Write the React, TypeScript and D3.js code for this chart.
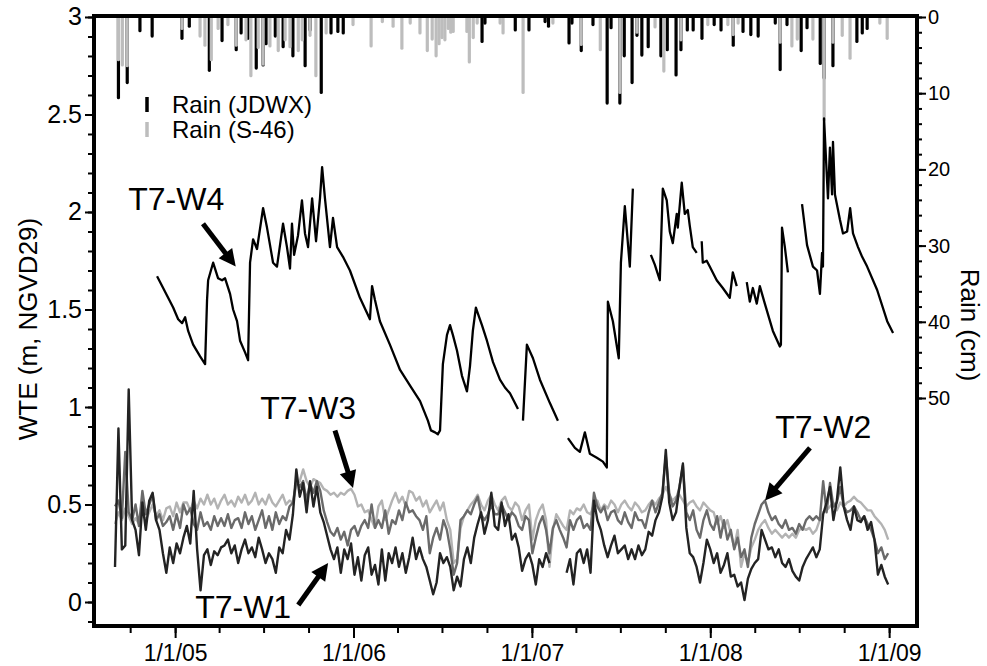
import React, { useEffect, useRef } from 'react';
import * as d3 from 'd3';

// weekly water-table elevations (m, NGVD29), first reading 2004-08-31
const wellStart = '2004-08-31';
const wellStepDays = 7;

const wellW1: (number | null)[] = [
  0.18, 0.89, 0.27, 0.29, 1.09, 0.42, 0.37, 0.24, 0.51, 0.37,
  0.52, 0.56, 0.42, 0.37, 0.25, 0.15, 0.28, 0.20, 0.30, 0.25,
  0.33, 0.39, 0.30, 0.57, 0.27, 0.06, 0.24, 0.27, 0.19, 0.26,
  0.24, 0.28, 0.29, 0.32, 0.25, 0.29, 0.20, 0.27, 0.32, 0.25,
  0.28, 0.23, 0.33, 0.27, 0.20, 0.25, 0.22, 0.15, 0.28, 0.25,
  0.37, 0.32, 0.45, 0.68, 0.54, 0.61, 0.46, 0.62, 0.49, 0.59,
  0.46, 0.41, 0.34, 0.27, 0.22, 0.28, 0.15, 0.27, 0.22, 0.30,
  0.14, 0.23, 0.11, 0.24, 0.28, 0.14, 0.19, 0.09, 0.27, 0.11,
  0.25, 0.20, 0.28, 0.18, 0.25, 0.15, 0.23, 0.33, 0.22, 0.28,
  0.22, 0.18, 0.11, 0.04, 0.10, 0.25, 0.20, 0.23, 0.18, 0.06,
  0.13, 0.08, 0.22, 0.28, 0.20, 0.33, 0.40, 0.46, 0.35, 0.42,
  0.56, 0.39, 0.37, 0.51, 0.39, 0.45, 0.32, 0.35, 0.28, 0.16,
  0.22, 0.25, 0.19, 0.09, 0.22, 0.18, 0.25, 0.20, null, null,
  null, null, 0.15, 0.22, 0.09, 0.25, 0.27, 0.20, 0.27, 0.15,
  0.52, 0.42, 0.37, 0.29, 0.23, 0.29, 0.34, 0.25, 0.27, 0.29,
  0.22, 0.27, 0.22, 0.29, 0.24, 0.27, 0.36, 0.34, 0.42, 0.46,
  0.54, 0.78, 0.51, 0.42, 0.46, 0.59, 0.71, 0.38, 0.25, 0.23,
  0.18, 0.10, 0.20, 0.32, 0.27, 0.20, 0.25, 0.15, 0.19, 0.25,
  0.13, 0.14, 0.08, 0.10, 0.01, 0.12, 0.17, 0.20, 0.22, 0.37,
  0.32, 0.27, 0.28, 0.23, 0.27, 0.20, 0.18, 0.22, 0.16, 0.13,
  0.11, 0.18, 0.22, 0.25, 0.28, 0.23, 0.27, 0.45, 0.51, 0.59,
  0.42, 0.52, 0.69, 0.49, 0.42, 0.37, 0.49, 0.42, 0.41, 0.44,
  0.37, 0.41, 0.32, 0.14, 0.19, 0.13, 0.09,
];

const wellW2: (number | null)[] = [
  0.49, 0.52, 0.43, 0.77, 0.46, 0.42, 0.50, 0.39, 0.57, 0.45,
  0.50, 0.55, 0.42, 0.45, 0.39, 0.41, 0.44, 0.37, 0.45, 0.38,
  0.50, 0.45, 0.48, 0.40, 0.37, 0.46, 0.39, 0.41, 0.37, 0.44,
  0.39, 0.43, 0.39, 0.45, 0.38, 0.42, 0.43, 0.38, 0.46, 0.40,
  0.44, 0.37, 0.42, 0.47, 0.38, 0.44, 0.37, 0.46, 0.40, 0.44,
  0.42, 0.49, 0.51, 0.62, 0.59, 0.62, 0.52, 0.61, 0.56, 0.62,
  0.57, 0.47, 0.41, 0.36, 0.34, 0.38, 0.32, 0.36, 0.29, 0.37,
  0.39, 0.34, 0.39, 0.42, 0.38, 0.50, 0.38, 0.42, 0.38, 0.47,
  0.35, 0.42, 0.40, 0.47, 0.42, 0.51, 0.46, 0.47, 0.44, 0.42,
  0.37, 0.44, 0.25, 0.33, 0.38, 0.32, 0.42, 0.37, 0.27, 0.14,
  0.20, 0.42, 0.44, 0.47, 0.45, 0.50, 0.54, 0.45, 0.42, 0.45,
  0.50, 0.45, 0.45, 0.50, 0.46, 0.42, 0.46, 0.44, 0.39, 0.37,
  0.44, 0.42, 0.25, 0.33, 0.40, 0.44, 0.37, 0.25, 0.38, 0.42,
  0.37, 0.33, 0.28, 0.42, 0.37, 0.42, 0.44, 0.38, 0.40, 0.37,
  0.56, 0.49, 0.46, 0.49, 0.42, 0.46, 0.47, 0.42, 0.40, 0.46,
  0.41, 0.38, 0.46, 0.42, 0.42, 0.38, 0.46, 0.52, 0.46, 0.51,
  0.56, 0.75, 0.56, 0.49, 0.52, 0.59, 0.70, 0.46, 0.42, 0.47,
  0.37, 0.33, 0.42, 0.47, 0.40, 0.37, 0.44, 0.33, 0.42, 0.32,
  0.37, 0.27, 0.33, 0.23, 0.27, 0.18, 0.33, 0.40, 0.45, 0.50,
  0.52, 0.46, 0.42, 0.44, 0.40, 0.38, 0.42, 0.37, 0.38, 0.35,
  0.40, 0.37, 0.42, 0.44, 0.42, 0.44, 0.42, 0.62, 0.46, 0.61,
  0.49, 0.51, 0.59, 0.49, 0.46, 0.47, 0.49, 0.46, 0.42, 0.44,
  0.40, 0.37, 0.32, 0.25, 0.28, 0.22, 0.25,
];

const wellW3: (number | null)[] = [
  0.40, 0.46, 0.42, 0.48, 0.44, 0.40, 0.43, 0.40, 0.45, 0.42,
  0.46, 0.50, 0.44, 0.47, 0.42, 0.48, 0.49, 0.44, 0.51, 0.46,
  0.51, 0.51, 0.47, 0.52, 0.48, 0.53, 0.50, 0.55, 0.50, 0.53,
  0.48, 0.52, 0.55, 0.50, 0.52, 0.49, 0.54, 0.51, 0.55, 0.50,
  0.52, 0.56, 0.50, 0.53, 0.50, 0.55, 0.51, 0.49, 0.52, 0.55,
  0.50, 0.52, 0.51, 0.60, 0.62, 0.68, 0.62, 0.59, 0.63, 0.62,
  0.61, 0.58, 0.57, 0.55, 0.56, 0.54, 0.56, 0.55, 0.57, 0.58,
  0.55, 0.49, 0.50, 0.46, 0.47, 0.42, 0.38, 0.49, 0.52, 0.42,
  0.47, 0.52, 0.56, 0.51, 0.54, 0.49, 0.57, 0.56, 0.52, 0.54,
  0.49, 0.52, 0.46, 0.49, 0.52, 0.47, 0.51, 0.42, 0.37, 0.20,
  0.22, 0.38, 0.44, 0.47, 0.50, 0.52, 0.55, 0.50, 0.47, 0.52,
  0.55, 0.50, 0.47, 0.52, 0.54, 0.49, 0.47, 0.51, 0.49, 0.42,
  0.47, 0.50, 0.32, 0.42, 0.47, 0.50, 0.42, 0.18, 0.37, 0.45,
  0.42, 0.39, 0.37, 0.47, 0.45, 0.48, 0.47, 0.50, 0.46, 0.45,
  0.50, 0.52, 0.47, 0.50, 0.48, 0.52, 0.50, 0.46, 0.50, 0.52,
  0.49, 0.47, 0.51, 0.49, 0.46, 0.47, 0.50, 0.52, 0.50, 0.53,
  0.55, 0.59, 0.55, 0.52, 0.54, 0.55, 0.52, 0.49, 0.51, 0.52,
  0.49, 0.47, 0.51, 0.49, 0.47, 0.46, 0.40, 0.44, 0.38, 0.42,
  0.35, 0.28, 0.37, 0.18, 0.25, 0.20, 0.28, 0.32, 0.37, 0.40,
  0.42, 0.38, 0.35, 0.37, 0.35, 0.33, 0.35, 0.33, 0.35, 0.33,
  0.37, 0.38, 0.37, 0.38, 0.35, 0.37, 0.42, 0.46, 0.47, 0.49,
  0.51, 0.47, 0.51, 0.49, 0.51, 0.52, 0.54, 0.52, 0.51, 0.49,
  0.47, 0.47, 0.44, 0.42, 0.40, 0.37, 0.32,
];

// T7-W4 [decimal year, m]; the record has gaps so each run is its own list
const wellW4Runs: [number, number][][] = [
  [
    [2004.899, 1.67], [2004.933, 1.61], [2004.961, 1.56], [2004.989, 1.51], [2005.017, 1.45],
    [2005.039, 1.43], [2005.056, 1.46], [2005.073, 1.39], [2005.101, 1.32], [2005.140, 1.26],
    [2005.168, 1.22], [2005.179, 1.55], [2005.185, 1.65], [2005.213, 1.74], [2005.241, 1.66],
    [2005.263, 1.65], [2005.280, 1.66], [2005.308, 1.58], [2005.325, 1.50], [2005.347, 1.44],
    [2005.364, 1.34], [2005.392, 1.28], [2005.409, 1.24], [2005.420, 1.74], [2005.437, 1.86],
    [2005.459, 1.81], [2005.493, 2.02], [2005.515, 1.92], [2005.549, 1.74], [2005.571, 1.72],
    [2005.605, 1.94], [2005.627, 1.82], [2005.644, 1.71], [2005.655, 1.94], [2005.667, 1.78],
    [2005.689, 1.88], [2005.711, 2.06], [2005.728, 1.89], [2005.745, 1.82], [2005.768, 2.07],
    [2005.790, 1.85], [2005.812, 2.07], [2005.824, 2.23], [2005.840, 2.07], [2005.868, 1.82],
    [2005.885, 1.97], [2005.908, 1.82], [2005.941, 1.77], [2005.980, 1.70], [2006.036, 1.56],
    [2006.092, 1.45], [2006.104, 1.62], [2006.120, 1.55], [2006.148, 1.44], [2006.204, 1.32],
    [2006.261, 1.19], [2006.317, 1.11], [2006.373, 1.03], [2006.417, 0.93], [2006.434, 0.88],
    [2006.457, 0.87], [2006.473, 0.86], [2006.485, 0.88], [2006.501, 1.22], [2006.524, 1.37],
    [2006.541, 1.42], [2006.557, 1.37], [2006.580, 1.29], [2006.608, 1.16], [2006.636, 1.08],
    [2006.653, 1.21], [2006.669, 1.39], [2006.686, 1.51], [2006.697, 1.48], [2006.720, 1.42],
    [2006.748, 1.34], [2006.782, 1.23], [2006.821, 1.14], [2006.849, 1.10], [2006.877, 1.07],
    [2006.905, 1.02], [2006.922, 0.99],
  ],
  [
    [2006.950, 0.93], [2006.972, 1.32], [2007.006, 1.25], [2007.045, 1.14], [2007.101, 1.02],
    [2007.146, 0.93],
  ],
  [
    [2007.202, 0.84], [2007.241, 0.79], [2007.269, 0.77], [2007.297, 0.87], [2007.325, 0.76],
    [2007.364, 0.74], [2007.398, 0.72], [2007.420, 0.69], [2007.426, 1.54], [2007.454, 1.44],
    [2007.487, 1.25], [2007.499, 1.74], [2007.521, 2.03], [2007.549, 1.72], [2007.566, 2.12],
  ],
  [
    [2007.667, 1.78], [2007.689, 1.73], [2007.717, 1.65], [2007.734, 2.12], [2007.756, 2.06],
    [2007.773, 1.90], [2007.790, 1.84], [2007.812, 1.99], [2007.818, 1.92], [2007.840, 2.15],
    [2007.857, 1.99], [2007.874, 2.01], [2007.885, 1.93], [2007.902, 1.82], [2007.924, 1.79],
  ],
  [
    [2007.952, 1.85], [2007.958, 1.74], [2007.980, 1.75], [2007.997, 1.72], [2008.036, 1.65],
    [2008.070, 1.61], [2008.109, 1.56], [2008.126, 1.69], [2008.148, 1.62],
  ],
  [
    [2008.204, 1.64], [2008.221, 1.54], [2008.238, 1.61], [2008.260, 1.53], [2008.277, 1.62],
    [2008.305, 1.53], [2008.350, 1.39], [2008.389, 1.31], [2008.395, 1.32], [2008.401, 1.92],
    [2008.417, 1.82], [2008.434, 1.69],
  ],
  [
    [2008.513, 2.04], [2008.541, 1.83], [2008.574, 1.72], [2008.597, 1.70], [2008.613, 1.58],
    [2008.625, 1.79], [2008.630, 1.72], [2008.636, 2.48], [2008.653, 2.16], [2008.658, 2.07],
    [2008.669, 2.33], [2008.681, 2.09], [2008.686, 2.36], [2008.697, 2.09], [2008.725, 1.96],
    [2008.742, 1.89], [2008.765, 1.90], [2008.782, 2.02], [2008.798, 1.89], [2008.826, 1.82],
    [2008.849, 1.77], [2008.877, 1.72], [2008.933, 1.60], [2008.989, 1.44], [2009.022, 1.38],
  ],
];

// daily rain totals (cm)
const rainJDWX: [string, number][] = [
  ['2004-09-07', 10.6], ['2004-09-25', 8.6], ['2004-10-21', 1.8], ['2004-11-15', 2.5],
  ['2005-01-15', 2.8], ['2005-01-30', 1.2], ['2005-03-12', 7.0], ['2005-04-07', 3.1],
  ['2005-05-06', 4.3], ['2005-05-16', 2.1], ['2005-05-30', 2.8], ['2005-06-16', 6.7],
  ['2005-06-30', 6.3], ['2005-07-06', 3.5], ['2005-07-25', 2.5], ['2005-08-10', 3.9],
  ['2005-08-30', 5.1], ['2005-09-24', 6.4], ['2005-10-04', 1.7], ['2005-10-27', 9.9],
  ['2005-11-16', 2.1], ['2005-11-30', 1.9], ['2005-12-11', 2.1], ['2006-09-21', 3.2],
  ['2006-09-27', 0.8], ['2006-11-28', 1.7], ['2006-12-26', 1.7], ['2007-01-28', 0.6],
  ['2007-02-04', 1.2], ['2007-03-18', 3.4], ['2007-03-24', 0.8], ['2007-04-12', 4.4],
  ['2007-05-06', 1.0], ['2007-06-04', 11.3], ['2007-06-12', 1.4], ['2007-06-30', 11.3],
  ['2007-07-09', 5.1], ['2007-07-25', 8.6], ['2007-08-04', 2.4], ['2007-08-14', 5.0],
  ['2007-08-27', 3.9], ['2007-09-22', 5.1], ['2007-10-05', 4.3], ['2007-10-23', 7.6],
  ['2007-11-02', 4.3], ['2007-11-15', 1.7], ['2007-11-27', 1.7], ['2007-12-15', 2.8],
  ['2008-01-09', 1.0], ['2008-01-23', 1.7], ['2008-02-17', 3.7], ['2008-03-08', 1.9],
  ['2008-03-24', 2.3], ['2008-04-08', 2.5], ['2008-05-13', 0.8], ['2008-05-23', 6.9],
  ['2008-06-06', 1.0], ['2008-07-05', 4.4], ['2008-07-17', 1.4], ['2008-08-13', 6.1],
  ['2008-08-21', 8.0], ['2008-09-08', 6.4], ['2008-10-27', 3.2], ['2008-11-07', 2.1],
  ['2008-11-17', 1.5],
];

const rainS46: [string, number][] = [
  ['2004-09-07', 5.6], ['2004-09-15', 6.3], ['2004-09-25', 6.4], ['2005-01-15', 1.5],
  ['2005-02-21', 2.5], ['2005-03-03', 3.7], ['2005-03-16', 5.6], ['2005-03-30', 1.5],
  ['2005-04-19', 1.0], ['2005-05-06', 3.7], ['2005-05-26', 3.0], ['2005-06-05', 7.7],
  ['2005-06-20', 4.0], ['2005-06-30', 6.2], ['2005-07-14', 3.8], ['2005-07-31', 4.4],
  ['2005-08-14', 3.0], ['2005-08-24', 3.9], ['2005-09-10', 4.4], ['2005-09-18', 3.0],
  ['2005-10-04', 2.4], ['2005-10-16', 7.7], ['2005-11-06', 2.1], ['2005-12-31', 1.0],
  ['2006-02-06', 3.8], ['2006-03-01', 0.6], ['2006-03-23', 1.2], ['2006-04-10', 4.1],
  ['2006-04-27', 0.8], ['2006-05-17', 2.1], ['2006-06-01', 4.4], ['2006-06-11', 2.9],
  ['2006-06-19', 5.1], ['2006-06-25', 3.5], ['2006-07-01', 2.7], ['2006-07-07', 3.0],
  ['2006-07-14', 1.5], ['2006-07-19', 2.0], ['2006-07-24', 1.9], ['2006-08-21', 1.9],
  ['2006-08-26', 5.9], ['2006-09-03', 2.7], ['2006-09-11', 0.8], ['2006-10-28', 0.8],
  ['2006-11-03', 2.1], ['2006-12-14', 9.9], ['2007-02-13', 0.8], ['2007-04-12', 3.6],
  ['2007-05-21', 4.3], ['2007-06-30', 9.9], ['2007-08-04', 2.0], ['2007-09-10', 1.3],
  ['2007-09-28', 7.1], ['2007-11-02', 3.0], ['2007-12-27', 1.0], ['2008-02-06', 1.0],
  ['2008-02-17', 2.3], ['2008-02-27', 0.8], ['2008-05-23', 3.3], ['2008-06-16', 3.8],
  ['2008-06-27', 2.9], ['2008-07-29', 2.9], ['2008-08-21', 13.5], ['2008-09-08', 3.3],
  ['2008-09-27', 2.4], ['2008-10-13', 5.4], ['2008-12-13', 0.8], ['2008-12-28', 2.8],
];

const wteTicks = [0, 0.5, 1, 1.5, 2, 2.5, 3];
const rainTicks = [0, 10, 20, 30, 40, 50];
const yearTicks = ['2005-01-01', '2006-01-01', '2007-01-01', '2008-01-01', '2009-01-01'];
const yearLabels = ['1/1/05', '1/1/06', '1/1/07', '1/1/08', '1/1/09'];

// well labels: text anchor, arrow tail and arrow tip in data units
const wellLabels: { label: string; text: [string, number]; tail: [string, number]; tip: [string, number] }[] = [
  { label: 'T7-W4', text: ['2004-09-27', 2.01], tail: ['2005-02-27', 1.94], tip: ['2005-05-05', 1.72] },
  { label: 'T7-W3', text: ['2005-06-24', 0.94], tail: ['2005-11-24', 0.88], tip: ['2005-12-31', 0.585] },
  { label: 'T7-W1', text: ['2005-02-11', -0.08], tail: ['2005-09-10', -0.015], tip: ['2005-11-10', 0.2] },
  { label: 'T7-W2', text: ['2008-05-13', 0.84], tail: ['2008-07-23', 0.79], tip: ['2008-04-22', 0.52] },
];

const FONT = '"Liberation Sans", Arial, Helvetica, sans-serif';
const parseDay = d3.utcParse('%Y-%m-%d');
const day = (s: string) => parseDay(s) as Date;
const fromDecimalYear = (v: number) => {
  const yr = Math.floor(v);
  const a = Date.UTC(yr, 0, 1);
  const b = Date.UTC(yr + 1, 0, 1);
  return new Date(a + (v - yr) * (b - a));
};

const App: React.FC = () => {
  const svgRef = useRef<SVGSVGElement>(null);

  useEffect(() => {
    document.body.style.margin = '0';
    if (!svgRef.current) return;
    const svg = d3.select(svgRef.current);
    svg.selectAll('*').remove();

    const box = { left: 94, right: 917, top: 16, bottom: 626 };

    const x = d3.scaleUtc().domain([day('2004-07-19'), day('2009-02-27')]).range([box.left, box.right]);
    const y = d3.scaleLinear().domain([-0.123, 3.005]).range([box.bottom, box.top]);
    const yRain = d3.scaleLinear().domain([0, 50]).range([17, 398]);

    // rain hanging from the top
    const drawRain = (data: [string, number][], color: string) => {
      svg.append('g')
        .selectAll('line')
        .data(data)
        .join('line')
        .attr('x1', d => x(day(d[0])))
        .attr('x2', d => x(day(d[0])))
        .attr('y1', yRain(0))
        .attr('y2', d => yRain(d[1]))
        .attr('stroke', color)
        .attr('stroke-width', 3.2)
        .attr('stroke-linecap', 'round');
    };
    drawRain(rainJDWX, '#000');
    drawRain(rainS46, '#bdbdbd');

    // shallow wells, weekly
    type Pt = { date: Date; v: number | null };
    const weekly = (vals: (number | null)[]): Pt[] =>
      vals.map((v, i) => ({ date: d3.utcDay.offset(day(wellStart), i * wellStepDays), v }));
    const wellLine = d3.line<Pt>()
      .defined(d => d.v !== null)
      .x(d => x(d.date))
      .y(d => y(d.v as number));

    const wells: [(number | null)[], string][] = [
      [wellW3, '#b3b3b3'],
      [wellW2, '#6a6a6a'],
      [wellW1, '#232323'],
    ];
    wells.forEach(([vals, color]) => {
      svg.append('path')
        .attr('d', wellLine(weekly(vals)))
        .attr('fill', 'none')
        .attr('stroke', color)
        .attr('stroke-width', 2.4)
        .attr('stroke-linejoin', 'round');
    });

    const w4Line = d3.line<[number, number]>()
      .x(d => x(fromDecimalYear(d[0])))
      .y(d => y(d[1]));
    svg.append('g')
      .selectAll('path')
      .data(wellW4Runs)
      .join('path')
      .attr('d', d => w4Line(d))
      .attr('fill', 'none')
      .attr('stroke', '#000')
      .attr('stroke-width', 2.3)
      .attr('stroke-linejoin', 'round');

    // axes
    const styleAxis = (g: d3.Selection<SVGGElement, unknown, null, undefined>, size: number) => {
      g.select('.domain').remove();
      g.selectAll('line').attr('stroke', '#000').attr('stroke-width', 2);
      g.selectAll('text').attr('fill', '#000');
      g.attr('font-family', FONT).attr('font-size', size);
    };

    svg.append('g')
      .attr('transform', `translate(${box.left},0)`)
      .call(d3.axisLeft(y).tickValues(d3.range(-1, 31).map(i => i / 10)).tickSize(6).tickFormat(() => ''))
      .call(g => styleAxis(g, 10));
    svg.append('g')
      .attr('transform', `translate(${box.left},0)`)
      .call(d3.axisLeft(y).tickValues(wteTicks).tickSize(9).tickPadding(3).tickFormat(d => String(d)))
      .call(g => styleAxis(g, 25));

    svg.append('g')
      .attr('transform', `translate(0,${box.bottom})`)
      .call(d3.axisBottom(x).ticks(d3.utcMonth.every(3)).tickSize(7).tickFormat(() => ''))
      .call(g => styleAxis(g, 10));
    svg.append('g')
      .attr('transform', `translate(0,${box.bottom})`)
      .call(d3.axisBottom(x).tickValues(yearTicks.map(day)).tickSize(12).tickPadding(7)
        .tickFormat((_, i) => yearLabels[i]))
      .call(g => styleAxis(g, 23));

    svg.append('g')
      .attr('transform', `translate(${box.right},0)`)
      .call(d3.axisRight(yRain).tickValues(d3.range(0, 51, 2)).tickSize(5).tickFormat(() => ''))
      .call(g => styleAxis(g, 10));
    svg.append('g')
      .attr('transform', `translate(${box.right},0)`)
      .call(d3.axisRight(yRain).tickValues(rainTicks).tickSize(9).tickPadding(2).tickFormat(d => String(d)))
      .call(g => styleAxis(g, 20));

    svg.append('rect')
      .attr('x', box.left)
      .attr('y', box.top)
      .attr('width', box.right - box.left)
      .attr('height', box.bottom - box.top)
      .attr('fill', 'none')
      .attr('stroke', '#000')
      .attr('stroke-width', 4);

    // axis titles
    svg.append('text')
      .attr('transform', `translate(28,${(box.top + box.bottom) / 2 + 8}) rotate(-90)`)
      .attr('text-anchor', 'middle')
      .attr('dy', '0.35em')
      .attr('font-family', FONT)
      .attr('font-size', 26)
      .text('WTE (m, NGVD29)');
    svg.append('text')
      .attr('transform', `translate(970,${(box.top + box.bottom) / 2 + 4}) rotate(90)`)
      .attr('text-anchor', 'middle')
      .attr('dy', '0.35em')
      .attr('font-family', FONT)
      .attr('font-size', 26)
      .text('Rain (cm)');

    // legend
    const legend = svg.append('g').attr('font-family', FONT).attr('font-size', 24);
    [['Rain (JDWX)', '#000'], ['Rain (S-46)', '#bdbdbd']].forEach(([label, color], i) => {
      const top = 97 + i * 25;
      legend.append('line')
        .attr('x1', 147).attr('x2', 147)
        .attr('y1', top).attr('y2', top + 15)
        .attr('stroke', color).attr('stroke-width', 3.5);
      legend.append('text')
        .attr('x', 172).attr('y', top + 16)
        .text(label);
    });

    // well labels with arrows
    const ann = svg.append('g');
    wellLabels.forEach(a => {
      ann.append('text')
        .attr('x', x(day(a.text[0])))
        .attr('y', y(a.text[1]))
        .attr('font-family', FONT)
        .attr('font-size', 32)
        .text(a.label);
      const x1 = x(day(a.tail[0])), y1 = y(a.tail[1]);
      const x2 = x(day(a.tip[0])), y2 = y(a.tip[1]);
      const ang = Math.atan2(y2 - y1, x2 - x1);
      const headLen = 17, headHalf = 8.5;
      const bx = x2 - headLen * Math.cos(ang), by = y2 - headLen * Math.sin(ang);
      ann.append('line')
        .attr('x1', x1).attr('y1', y1)
        .attr('x2', bx + 2 * Math.cos(ang)).attr('y2', by + 2 * Math.sin(ang))
        .attr('stroke', '#000').attr('stroke-width', 5);
      ann.append('path')
        .attr('d', `M${x2},${y2}L${bx + headHalf * Math.sin(ang)},${by - headHalf * Math.cos(ang)}L${bx - headHalf * Math.sin(ang)},${by + headHalf * Math.cos(ang)}Z`)
        .attr('fill', '#000');
    });
  }, []);

  return (
    <div style={{ width: 987, height: 666, background: '#fff' }}>
      <svg ref={svgRef} width={987} height={666} style={{ display: 'block' }} />
    </div>
  );
};

export default App;
